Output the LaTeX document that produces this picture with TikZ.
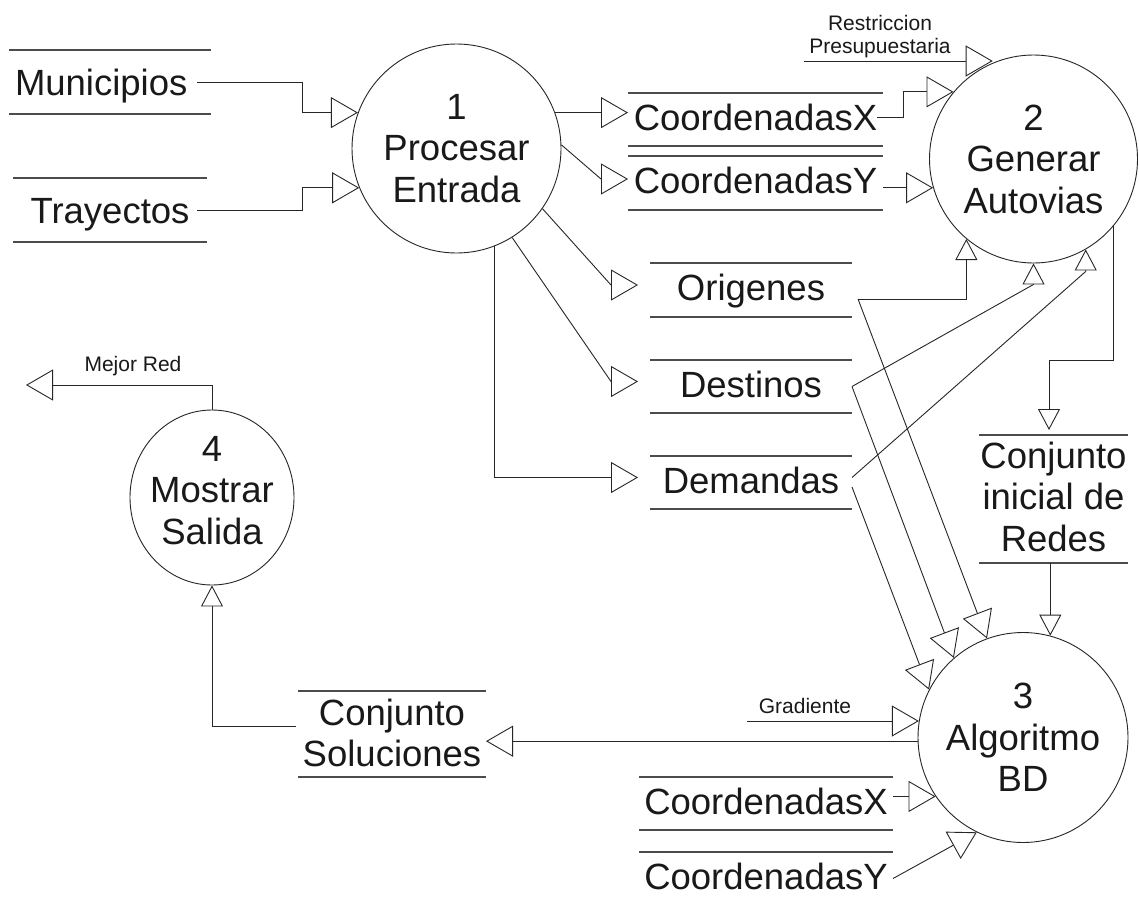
\documentclass[tikz,border=0pt]{standalone}
\usepackage{fontspec}
\setmainfont{Liberation Sans}
\usetikzlibrary{arrows.meta,calc,shapes.geometric}
\begin{document}
\begin{tikzpicture}[x=1pt,y=-1pt,
  big/.style={font=\fontsize{36.5}{41.5}\selectfont, text=black!90},
  small/.style={font=\fontsize{21}{22.5}\selectfont, text=black!90, inner sep=0pt},
  proc/.style={big, circle, draw=black!85, line width=0.9pt, inner sep=0pt, align=center},
  store/.style={big, inner sep=0pt, outer sep=0pt, text height=27pt, text depth=6pt},
  storeline/.style={draw=black!70, line width=1.3pt},
  flow/.style={draw=black!85, line width=0.9pt, -{Triangle[open, length=27pt, width=31pt]}},
  vflow/.style={draw=black!85, line width=0.9pt, -{Triangle[open, length=21pt, width=22pt]}},
]
\useasboundingbox (0,0) rectangle (1139,902);
\fill[white] (0,0) rectangle (1139,902);
\clip (0,0) rectangle (1139,902);

% processes
\node[proc, minimum size=209] (p1) at (456.5,148.5) {1\\Procesar\\Entrada};
\node[proc, minimum size=208] (p2) at (1033.5,159) {2\\Generar\\Autovias};
\node[proc, minimum size=210] (p3) at (1023,737.5) {3\\Algoritmo\\BD};
\node[proc, ellipse, minimum width=164, minimum height=175, text height=110pt, text depth=17pt,
      inner xsep=-5pt, inner ysep=-2pt] (p4) at (212,497.5) {4\\Mostrar\\Salida};

% data stores
\node[store, minimum width=202, minimum height=64, text depth=0pt, text width=190pt,
      align=left, inner xsep=6pt] (muni) at (110,82) {Municipios};
\node[store, minimum width=194, minimum height=64, text depth=0pt] (tray) at (110,210) {Trayectos};
\node[store, minimum width=255, minimum height=53] (cx1) at (755.5,119.5) {CoordenadasX};
\node[store, minimum width=255, minimum height=54] (cy1) at (755.5,183) {CoordenadasY};
\node[store, minimum width=202, minimum height=54] (ori) at (751,290) {Origenes};
\node[store, minimum width=202, minimum height=53] (des) at (751,386.5) {Destinos};
\node[store, minimum width=202, minimum height=53] (dem) at (751,482.5) {Demandas};
\node[store, align=center, minimum width=149, minimum height=128, text height=110pt, text depth=6pt] (cir) at (1053.5,499) {Conjunto\\inicial de\\Redes};
\node[store, align=center, minimum width=188, minimum height=86, text height=68.5pt, text depth=3.5pt] (sol) at (392,734) {Conjunto\\Soluciones};
\node[store, minimum width=254, minimum height=53] (cx3) at (766,803.5) {CoordenadasX};
\node[store, minimum width=254, minimum height=53] (cy3) at (766,878.5) {CoordenadasY};

\foreach \s in {muni,tray,cx1,cy1,ori,des,dem,cir,sol,cx3,cy3}
  \draw[storeline] (\s.north west) -- (\s.north east) (\s.south west) -- (\s.south east);

% flow labels and free ends
\node[small, text height=37.5pt, text depth=0pt, align=center] (rlab) at (880,34.6) {Restriccion\\Presupuestaria};
\node[small, anchor=base] (glab) at (805,713) {Gradiente};
\node[small, anchor=base] (mlab) at (133,371) {Mejor Red};
\coordinate (rsrc) at (804,61);
\coordinate (gsrc) at (747,721);
\coordinate (mout) at (26,385);

% inputs to process 1
\draw[flow] ($(muni.east)+(-14,0)$) -- ++(105,0) |- (p1.160);
\draw[flow] ($(tray.east)+(-10,0)$) -- ++(105,0) |- (p1.202);

% outputs of process 1
\draw[flow] (p1.20) -- (p1.20 -| cx1.west);
\draw[flow] (p1.2) -- ($(cy1.west)+(-27,-4)$) -- ($(cy1.west)+(0,-4)$);
\draw[flow] (p1.-35) -- ($(ori.west)+(-39,-5)$) -- ($(ori.west)+(-12,-5)$);
\draw[flow] (p1.-58) -- ($(des.west)+(-39,-5)$) -- ($(des.west)+(-12,-5)$);
\draw[flow] (p1.-69.6) |- ($(dem.west)+(-12,-5)$);

% inputs to process 2
\draw[flow] ($(cx1.east)+(-6,-2.5)$) -- ++(26,0) |- (p2.140);
\draw[flow] (p2.196 -| cy1.east) -- (p2.196);
\draw[flow] (rsrc) -- (rsrc -| p2.113);
\draw[vflow] ($(ori.east)+(6,9)$) -| (p2.230);
\draw[vflow] (des.east) -- ($(p2.270)+(0,21)$) -- (p2.270);
\draw[vflow] ($(dem.east)+(0,-5)$) -- ($(p2.-60.3)+(0,22)$) -- (p2.-60.3);

% process 2 to initial networks, then to process 3
\draw[vflow] (p2.-40) -- ++(0,134) -| ($(cir.north)+(-4.5,-5)$);
\draw[vflow] (cir.south -| p3.75.7) -- (p3.75.7);

% inputs to process 3
\draw[flow] ($(ori.east)+(6,9)$) -- (p3.110);
\draw[flow] (des.east) -- (p3.131);
\draw[flow] ($(dem.east)+(0,4.5)$) -- (p3.153);
\draw[flow] (gsrc) -- (gsrc -| p3.171);
\draw[flow] (p3.214 -| cx3.east) -- (p3.214);
\draw[flow] (cy3.east) -- (p3.244);

% solutions and output
\draw[flow] (p3.182.5) -- (p3.182.5 -| sol.east);
\draw[vflow] ($(sol.west)+(-2,-8)$) -| (p4.south);
\draw[flow] (p4.north) |- (mout);
\end{tikzpicture}
\end{document}
